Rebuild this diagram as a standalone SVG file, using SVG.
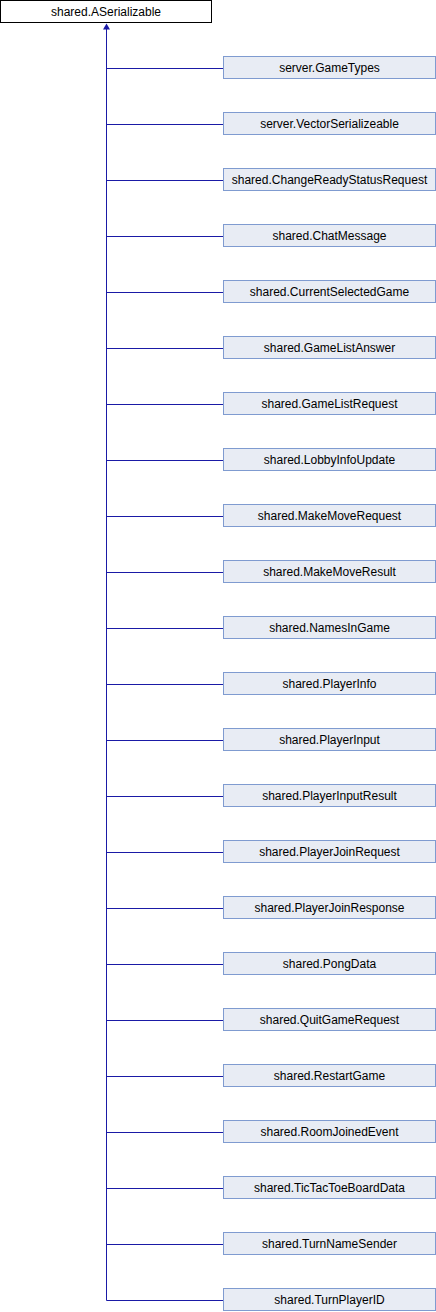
<svg xmlns="http://www.w3.org/2000/svg" width="436" height="1312" viewBox="0 0 436 1312">
<style>
.n rect{fill:#e8ecf4;stroke:#7f9bd0;stroke-width:1}
.root rect{fill:#ffffff;stroke:#000000;stroke-width:1}
text{font-family:"Liberation Sans",Arial,sans-serif;font-size:12px;fill:#000;text-anchor:middle}
.e{stroke:#1a1aa6;stroke-width:1;fill:none}
</style>
<rect width="436" height="1312" fill="#ffffff"/>
<g id="connectors">
<path class="e" d="M106.5,29V1300.5"/>
<polygon points="106.5,23.5 103,29.5 110,29.5" fill="#1a1aa6"/>
<path class="e" d="M106.5,68.5H223M106.5,124.5H223M106.5,180.5H223M106.5,236.5H223M106.5,292.5H223M106.5,348.5H223M106.5,404.5H223M106.5,460.5H223M106.5,516.5H223M106.5,572.5H223M106.5,628.5H223M106.5,684.5H223M106.5,740.5H223M106.5,796.5H223M106.5,852.5H223M106.5,908.5H223M106.5,964.5H223M106.5,1020.5H223M106.5,1076.5H223M106.5,1132.5H223M106.5,1188.5H223M106.5,1244.5H223M106.5,1300.5H223"/>
</g>
<g id="root" class="root"><rect x="0.5" y="0.5" width="211" height="22"/><text x="106" y="16">shared.ASerializable</text></g>
<g id="n1" class="n"><rect x="223.5" y="56.5" width="212" height="22"/><text x="329.5" y="72">server.GameTypes</text></g>
<g id="n2" class="n"><rect x="223.5" y="112.5" width="212" height="22"/><text x="329.5" y="128">server.VectorSerializeable</text></g>
<g id="n3" class="n"><rect x="223.5" y="168.5" width="212" height="22"/><text x="329.5" y="184">shared.ChangeReadyStatusRequest</text></g>
<g id="n4" class="n"><rect x="223.5" y="224.5" width="212" height="22"/><text x="329.5" y="240">shared.ChatMessage</text></g>
<g id="n5" class="n"><rect x="223.5" y="280.5" width="212" height="22"/><text x="329.5" y="296">shared.CurrentSelectedGame</text></g>
<g id="n6" class="n"><rect x="223.5" y="336.5" width="212" height="22"/><text x="329.5" y="352">shared.GameListAnswer</text></g>
<g id="n7" class="n"><rect x="223.5" y="392.5" width="212" height="22"/><text x="329.5" y="408">shared.GameListRequest</text></g>
<g id="n8" class="n"><rect x="223.5" y="448.5" width="212" height="22"/><text x="329.5" y="464">shared.LobbyInfoUpdate</text></g>
<g id="n9" class="n"><rect x="223.5" y="504.5" width="212" height="22"/><text x="329.5" y="520">shared.MakeMoveRequest</text></g>
<g id="n10" class="n"><rect x="223.5" y="560.5" width="212" height="22"/><text x="329.5" y="576">shared.MakeMoveResult</text></g>
<g id="n11" class="n"><rect x="223.5" y="616.5" width="212" height="22"/><text x="329.5" y="632">shared.NamesInGame</text></g>
<g id="n12" class="n"><rect x="223.5" y="672.5" width="212" height="22"/><text x="329.5" y="688">shared.PlayerInfo</text></g>
<g id="n13" class="n"><rect x="223.5" y="728.5" width="212" height="22"/><text x="329.5" y="744">shared.PlayerInput</text></g>
<g id="n14" class="n"><rect x="223.5" y="784.5" width="212" height="22"/><text x="329.5" y="800">shared.PlayerInputResult</text></g>
<g id="n15" class="n"><rect x="223.5" y="840.5" width="212" height="22"/><text x="329.5" y="856">shared.PlayerJoinRequest</text></g>
<g id="n16" class="n"><rect x="223.5" y="896.5" width="212" height="22"/><text x="329.5" y="912">shared.PlayerJoinResponse</text></g>
<g id="n17" class="n"><rect x="223.5" y="952.5" width="212" height="22"/><text x="329.5" y="968">shared.PongData</text></g>
<g id="n18" class="n"><rect x="223.5" y="1008.5" width="212" height="22"/><text x="329.5" y="1024">shared.QuitGameRequest</text></g>
<g id="n19" class="n"><rect x="223.5" y="1064.5" width="212" height="22"/><text x="329.5" y="1080">shared.RestartGame</text></g>
<g id="n20" class="n"><rect x="223.5" y="1120.5" width="212" height="22"/><text x="329.5" y="1136">shared.RoomJoinedEvent</text></g>
<g id="n21" class="n"><rect x="223.5" y="1176.5" width="212" height="22"/><text x="329.5" y="1192">shared.TicTacToeBoardData</text></g>
<g id="n22" class="n"><rect x="223.5" y="1232.5" width="212" height="22"/><text x="329.5" y="1248">shared.TurnNameSender</text></g>
<g id="n23" class="n"><rect x="223.5" y="1288.5" width="212" height="22"/><text x="329.5" y="1304">shared.TurnPlayerID</text></g>
</svg>
